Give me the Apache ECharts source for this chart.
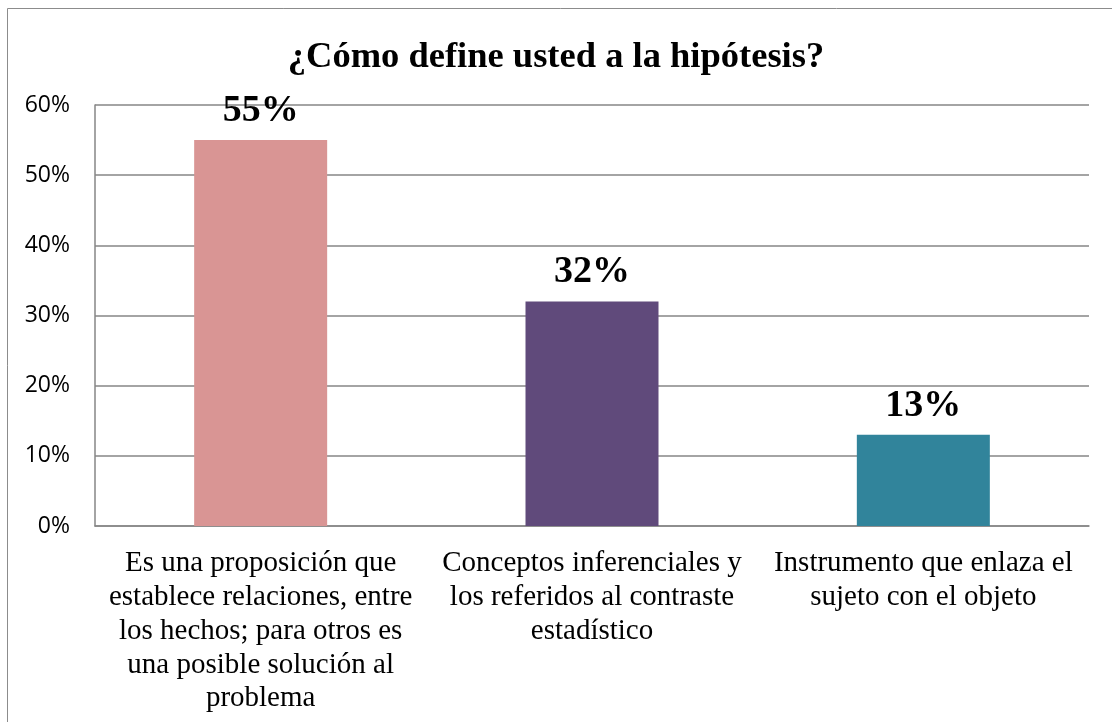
<!DOCTYPE html>
<html>
<head>
<meta charset="utf-8">
<script src="https://cdn.jsdelivr.net/npm/echarts@6/dist/echarts.min.js"></script>
<style>
  html, body { margin: 0; padding: 0; background: #fff; }
  #chart { width: 1112px; height: 722px; }
</style>
</head>
<body>
<div id="chart"></div>
<script>
// Survey answers: how respondents define a hypothesis
const categories = [
  'Es una proposición que\nestablece relaciones, entre\nlos hechos; para otros es\nuna posible solución al\nproblema',
  'Conceptos inferenciales y\nlos referidos al contraste\nestadístico',
  'Instrumento que enlaza el\nsujeto con el objeto'
];
const values = [55, 32, 13];
const barColors = ['#D99594', '#604A7B', '#31849B'];
const yTicks = [0, 10, 20, 30, 40, 50, 60];

const serif = '"Liberation Serif", "Times New Roman", serif';

const chart = echarts.init(document.getElementById('chart'));
chart.setOption({
  animation: false,
  backgroundColor: '#fff',
  graphic: [{
    type: 'rect',
    shape: { x: 7.5, y: 8.5, width: 1200, height: 800 },
    style: { fill: 'none', stroke: '#8c8c8c', lineWidth: 1 },
    silent: true
  }],
  title: {
    text: '¿Cómo define usted a la hipótesis?',
    left: 'center',
    top: 34,
    textStyle: {
      fontFamily: serif,
      fontWeight: 'bold',
      fontSize: 36.5,
      color: '#000'
    }
  },
  grid: { left: 95, right: 23, top: 105, bottom: 196, containLabel: false },
  xAxis: {
    type: 'category',
    data: categories,
    axisTick: { show: false },
    axisLine: { lineStyle: { color: '#868686', width: 1.5 } },
    axisLabel: {
      interval: 0,
      margin: 21,
      fontFamily: serif,
      fontSize: 29,
      lineHeight: 33.7,
      color: '#000'
    }
  },
  yAxis: {
    type: 'value',
    min: yTicks[0],
    max: yTicks[yTicks.length - 1],
    interval: 10,
    axisLine: { show: true, lineStyle: { color: '#868686', width: 1.5 } },
    axisTick: { show: false },
    splitLine: { lineStyle: { color: '#868686', width: 1.5 } },
    axisLabel: {
      margin: 25,
      fontFamily: '"Open Sans", "DejaVu Sans", sans-serif',
      fontSize: 23,
      color: '#000',
      formatter: v => v + '%'
    }
  },
  series: [{
    type: 'bar',
    barWidth: 133,
    data: values.map((v, i) => ({ value: v, itemStyle: { color: barColors[i] } })),
    label: {
      show: true,
      position: 'top',
      distance: 10,
      formatter: p => p.value + '%',
      fontFamily: serif,
      fontWeight: 'bold',
      fontSize: 38,
      color: '#000'
    }
  }]
});
</script>
</body>
</html>
